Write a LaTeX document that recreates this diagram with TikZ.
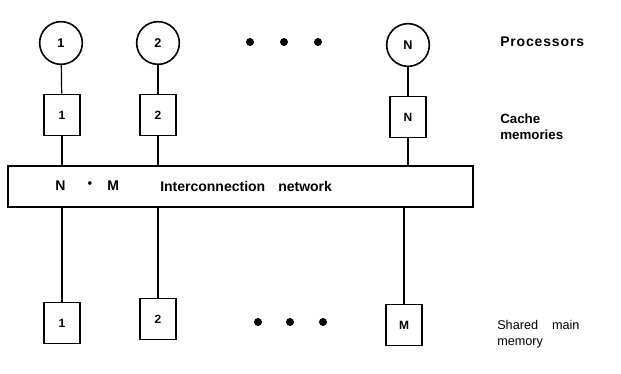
\documentclass[tikz,border=0pt]{standalone}
\usepackage{fontspec}
\setmainfont{Liberation Sans}
\begin{document}
\begin{tikzpicture}[x=0.75pt,y=-0.75pt,
  proc/.style={circle, draw, line width=1.2pt, minimum size=32pt, inner sep=0pt,
    font=\bfseries\fontsize{9.5}{10}\selectfont},
  unitbox/.style={rectangle, draw, line width=1.2pt, minimum width=27pt, minimum height=31pt,
    inner sep=0pt, font=\bfseries\fontsize{9}{10}\selectfont},
  netbox/.style={rectangle, draw, line width=1.3pt, minimum width=348.75pt, minimum height=30.75pt,
    inner sep=0pt},
  nettext/.style={font=\bfseries\fontsize{10.5}{12}\selectfont, inner sep=0pt, anchor=west},
  side/.style={font=\bfseries\fontsize{10}{12}\selectfont, align=left, anchor=west, inner sep=0pt},
  sidelight/.style={font=\fontsize{9.5}{12}\selectfont, align=left, anchor=west, inner sep=0pt},
  wire/.style={line width=0.9pt},
  dot/.style={circle, fill, minimum size=6pt, inner sep=0pt}]
\useasboundingbox (0,0) rectangle (621,374);

% processors
\node[proc] (p1) at (61,43) {1};
\node[proc] (p2) at (158,43) {2};
\node[proc] (pN) at (408,45) {N};
\node[dot] (pd1) at (250,42) {};
\node[dot] (pd2) at (284,42) {};
\node[dot] (pd3) at (318,42) {};
\node[side, font=\bfseries\fontsize{10.5}{12}\selectfont\addfontfeature{LetterSpace=6}] (lproc) at (500,42) {Processors};

% caches
\node[unitbox] (c1) at (62,115) {1};
\node[unitbox] (c2) at (158,115) {2};
\node[unitbox] (cN) at (408,117) {N};
\node[side] (lcache) at (500,127) {Cache\\memories};

% interconnection network
\node[netbox] (net) at (240.5,186.5) {};
\node[nettext] (tn) at (55,186) {N};
\node[nettext] (tstar) at (87,184) {\fontsize{6}{6}\selectfont$\bullet$};
\node[nettext] (tm) at (107,186) {M};
\node[nettext] (tic) at (160,186) {Interconnection};
\node[nettext] (tnw) at (278,186) {network};

% shared memories
\node[unitbox] (m1) at (62,323) {1};
\node[unitbox] (m2) at (158,319) {2};
\node[unitbox] (mM) at (404,325) {M};
\node[dot] (md1) at (258,322) {};
\node[dot] (md2) at (290,322) {};
\node[dot] (md3) at (323,322) {};
\node[sidelight] (lmem) at (497,334) {Shared\hspace{1.1em}main\\memory};

% connections
\draw[wire] (p1) -- (c1);
\draw[wire] (p2) -- (c2);
\draw[wire] (pN) -- (cN);
\draw[wire] (c1.south) -- (c1.south |- net.north);
\draw[wire] (c2.south) -- (c2.south |- net.north);
\draw[wire] (cN.south) -- (cN.south |- net.north);
\draw[wire] (m1.north |- net.south) -- (m1.north);
\draw[wire] (m2.north |- net.south) -- (m2.north);
\draw[wire] (mM.north |- net.south) -- (mM.north);
\end{tikzpicture}
\end{document}
